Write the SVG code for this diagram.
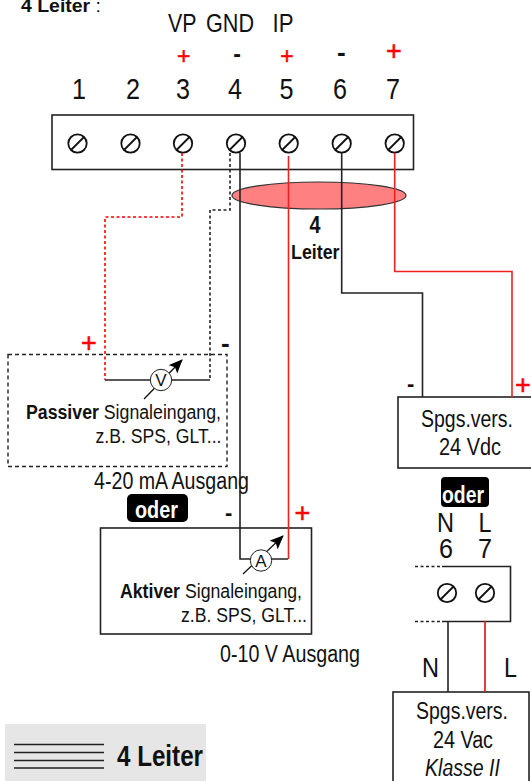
<svg xmlns="http://www.w3.org/2000/svg" width="531" height="781" viewBox="0 0 531 781">
<style>
text{font-family:"Liberation Sans",Arial,sans-serif;fill:#111}
.b{font-weight:bold}
.r{fill:#f00;stroke:#f00;stroke-width:.5}
.w{fill:#fff;font-weight:bold}
.box{fill:#fff;stroke:#222;stroke-width:1.6}
.k{fill:none;stroke:#222;stroke-width:1.6}
.red{fill:none;stroke:#f02020;stroke-width:1.6}
.kd{fill:none;stroke:#222;stroke-width:1.6;stroke-dasharray:3 2.5}
.rd{fill:none;stroke:#f00;stroke-width:1.6;stroke-dasharray:3 2.5}
.s{fill:#fff;stroke:#111;stroke-width:1.8}
.m{fill:#fff;stroke:#222;stroke-width:1}
</style>
<defs>
<g id="screw"><circle r="9.2" class="s"/><line x1="-6.5" y1="6.5" x2="6.5" y2="-6.5" class="s"/></g>
<marker id="ah" markerWidth="16" markerHeight="14" refX="13" refY="6" orient="auto" markerUnits="userSpaceOnUse"><path d="M0 0L14 6L0 12L3 6Z" fill="#000"/></marker>
</defs>
<text x="21" y="11.500" font-size="19" textLength="80" lengthAdjust="spacingAndGlyphs"><tspan class="b">4 Leiter</tspan> :</text>
<g id="terminal-block">
<rect x="52" y="115" width="361.500" height="54.500" class="box"/>
<use href="#screw" x="77.500" y="143.500"/><use href="#screw" x="130.500" y="143.500"/><use href="#screw" x="183" y="143.500"/><use href="#screw" x="236" y="143.500"/><use href="#screw" x="288.700" y="143.500"/><use href="#screw" x="341.700" y="143.500"/><use href="#screw" x="394.700" y="143.500"/>
</g>
<g id="terminal-labels">
<text x="72" y="99" font-size="30" textLength="14" lengthAdjust="spacingAndGlyphs">1</text>
<text x="126" y="99" font-size="30" textLength="14" lengthAdjust="spacingAndGlyphs">2</text>
<text x="176" y="99" font-size="30" textLength="14" lengthAdjust="spacingAndGlyphs">3</text>
<text x="228" y="99" font-size="30" textLength="14" lengthAdjust="spacingAndGlyphs">4</text>
<text x="279.500" y="99" font-size="30" textLength="14" lengthAdjust="spacingAndGlyphs">5</text>
<text x="333" y="99" font-size="30" textLength="14" lengthAdjust="spacingAndGlyphs">6</text>
<text x="386" y="99" font-size="30" textLength="14" lengthAdjust="spacingAndGlyphs">7</text>
<text x="168" y="31.700" font-size="26" textLength="28.500" lengthAdjust="spacingAndGlyphs">VP</text>
<text x="206" y="31.700" font-size="26" textLength="48" lengthAdjust="spacingAndGlyphs">GND</text>
<text x="272.500" y="31.700" font-size="26" textLength="21" lengthAdjust="spacingAndGlyphs">IP</text>
<text x="177" y="63.600" font-size="23" class="r">+</text>
<text x="233.200" y="62" font-size="23" class="b">-</text>
<text x="280.300" y="63.600" font-size="23" class="r">+</text>
<text x="337" y="61" font-size="26" class="b">-</text>
<text x="386" y="60" font-size="27" class="r">+</text>
</g>
<g id="cable-bundle">
<ellipse cx="319" cy="195.500" rx="87" ry="13.500" fill="#ff8080" stroke="#333" stroke-width="1.200"/>
<text x="309.500" y="233" font-size="23" class="b" textLength="11" lengthAdjust="spacingAndGlyphs">4</text>
<text x="291" y="259" font-size="20" class="b" textLength="48.500" lengthAdjust="spacingAndGlyphs">Leiter</text>
</g>
<g id="passive-input">
<rect x="8" y="354.500" width="219" height="112" fill="none" stroke="#222" stroke-width="1.400" stroke-dasharray="4 3"/>
<text x="26" y="418.500" font-size="20" textLength="195" lengthAdjust="spacingAndGlyphs"><tspan class="b">Passiver</tspan> Signaleingang,</text>
<text x="95.500" y="443" font-size="20" textLength="126" lengthAdjust="spacingAndGlyphs">z.B. SPS, GLT...</text>
<text x="94" y="489" font-size="23" textLength="155" lengthAdjust="spacingAndGlyphs">4-20 mA Ausgang</text>
</g>
<g id="active-input">
<rect x="100.500" y="528" width="211" height="106" class="box"/>
<text x="120" y="597.500" font-size="20" textLength="182" lengthAdjust="spacingAndGlyphs"><tspan class="b">Aktiver</tspan> Signaleingang,</text>
<text x="181" y="622" font-size="20" textLength="126" lengthAdjust="spacingAndGlyphs">z.B. SPS, GLT...</text>
<text x="220" y="661.700" font-size="23" textLength="140" lengthAdjust="spacingAndGlyphs">0-10 V Ausgang</text>
</g>
<g id="dc-supply">
<rect x="398" y="397" width="140" height="71" class="box"/>
<text x="421" y="426.700" font-size="23" textLength="92" lengthAdjust="spacingAndGlyphs">Spgs.vers.</text>
<text x="439" y="455" font-size="23" textLength="62" lengthAdjust="spacingAndGlyphs">24 Vdc</text>
</g>
<g id="oder-1">
<rect x="127" y="494" width="61" height="28" rx="5" fill="#000"/>
<text x="135" y="518" font-size="24" class="w" textLength="43" lengthAdjust="spacingAndGlyphs">oder</text>
</g>
<g id="oder-2">
<rect x="441" y="477" width="48" height="30" rx="4" fill="#000"/>
<text x="442" y="503" font-size="24" class="w" textLength="42" lengthAdjust="spacingAndGlyphs">oder</text>
</g>
<g id="ac-terminal">
<path d="M442 566.500H510.500V621.500H442" class="k"/>
<path d="M415 566.500H442M415 621.500H442" class="kd"/>
<use href="#screw" x="447" y="593"/><use href="#screw" x="485" y="593"/>
<text x="437" y="532" font-size="28" textLength="17" lengthAdjust="spacingAndGlyphs">N</text>
<text x="478.500" y="532" font-size="28" textLength="13" lengthAdjust="spacingAndGlyphs">L</text>
<text x="439" y="558" font-size="28" textLength="14" lengthAdjust="spacingAndGlyphs">6</text>
<text x="478" y="558" font-size="28" textLength="14" lengthAdjust="spacingAndGlyphs">7</text>
</g>
<g id="ac-supply">
<rect x="393" y="692" width="136" height="100" class="box"/>
<text x="416" y="719" font-size="23" textLength="92" lengthAdjust="spacingAndGlyphs">Spgs.vers.</text>
<text x="433" y="748" font-size="23" textLength="60" lengthAdjust="spacingAndGlyphs">24 Vac</text>
<text x="425" y="776" font-size="23" font-style="italic" textLength="75" lengthAdjust="spacingAndGlyphs">Klasse II</text>
</g>
<g id="legend">
<rect x="5" y="724" width="201" height="57" fill="#e6e6e6"/>
<path d="M14 744.500H104M14 752.500H104M14 760.500H104M14 768H104" stroke="#222" stroke-width="1.400" fill="none"/>
<text x="117" y="766" font-size="29" class="b" textLength="86" lengthAdjust="spacingAndGlyphs">4 Leiter</text>
</g>
<g id="connectors">
<path d="M182 153V217H105V380" class="rd"/>
<path d="M230 153V210H210V380" class="kd"/>
<path d="M105 380H210" class="k"/>
<path d="M240 153V559H288" class="k"/>
<path d="M288.500 156V559" class="red"/>
<path d="M341.700 153V293H422.500V397" class="k"/>
<path d="M394.700 153V271.500H512V397" class="red"/>
<path d="M448 621V692" class="k"/>
<path d="M485 621V692" stroke="#e01010" stroke-width="1.600" fill="none"/>
</g>
<g id="voltmeter">
<line x1="144" y1="399" x2="182" y2="360" stroke="#111" stroke-width="1.300" marker-end="url(#ah)"/>
<circle cx="161" cy="380" r="10.700" class="m"/>
<text x="155.300" y="386" font-size="17">V</text>
</g>
<g id="ammeter">
<line x1="243" y1="574" x2="283" y2="536" stroke="#111" stroke-width="1.300" marker-end="url(#ah)"/>
<circle cx="261" cy="560.500" r="10.700" class="m"/>
<text x="255.300" y="566.500" font-size="17">A</text>
</g>
<g id="signs">
<text x="81" y="351.500" font-size="27" class="r">+</text>
<text x="221" y="352" font-size="26" class="b">-</text>
<text x="225" y="520" font-size="22" class="b">-</text>
<text x="294.500" y="522" font-size="27" class="r">+</text>
<text x="407" y="391" font-size="22" class="b">-</text>
<text x="515" y="394" font-size="27" class="r">+</text>
<text x="422" y="677" font-size="28" textLength="17" lengthAdjust="spacingAndGlyphs">N</text>
<text x="504" y="677" font-size="28" textLength="13" lengthAdjust="spacingAndGlyphs">L</text>
</g>
</svg>
